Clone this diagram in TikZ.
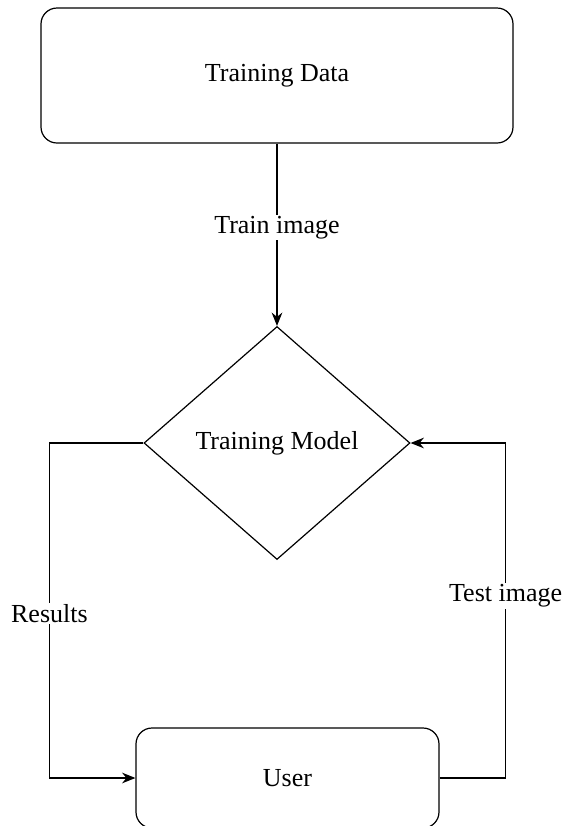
\documentclass[tikz,border=0pt]{standalone}
\usepackage{fontspec}
\setmainfont{Liberation Serif}
\usetikzlibrary{shapes.geometric,arrows.meta}
\tikzset{
   box/.style={draw, rounded corners=12pt, line width=0.9pt, align=center},
   choice/.style={draw, diamond, line width=0.9pt, inner sep=0pt,
      minimum width=199.5pt, minimum height=174.75pt},
   flow/.style={-{Stealth[length=10pt,width=8pt]}, line width=0.9pt},
   edgelabel/.style={fill=white, inner sep=1pt}
}
\begin{document}
\begin{tikzpicture}[x=0.75pt,y=-0.75pt,font=\fontsize{19.5}{23}\selectfont]
   \useasboundingbox (0,0) rectangle (563,826);
   \node[box, minimum width=354pt, minimum height=101.25pt] (data) at (277,75.5) {Training Data};
   \node[choice] (model) at (277,443) {Training Model};
   \node[box, minimum width=227.25pt, minimum height=75pt] (user) at (287.5,778) {User};
   \draw[flow] (data.south) -- node[edgelabel, pos=0.46] {Train image} (model.north);
   \draw[flow] (model.west) -- ++(-94,0) |- node[edgelabel, pos=0.255] {Results} (user.west);
   \draw[flow] (user.east) -- ++(66,0) |- node[edgelabel, pos=0.272] {Test image} (model.east);
\end{tikzpicture}
\end{document}
